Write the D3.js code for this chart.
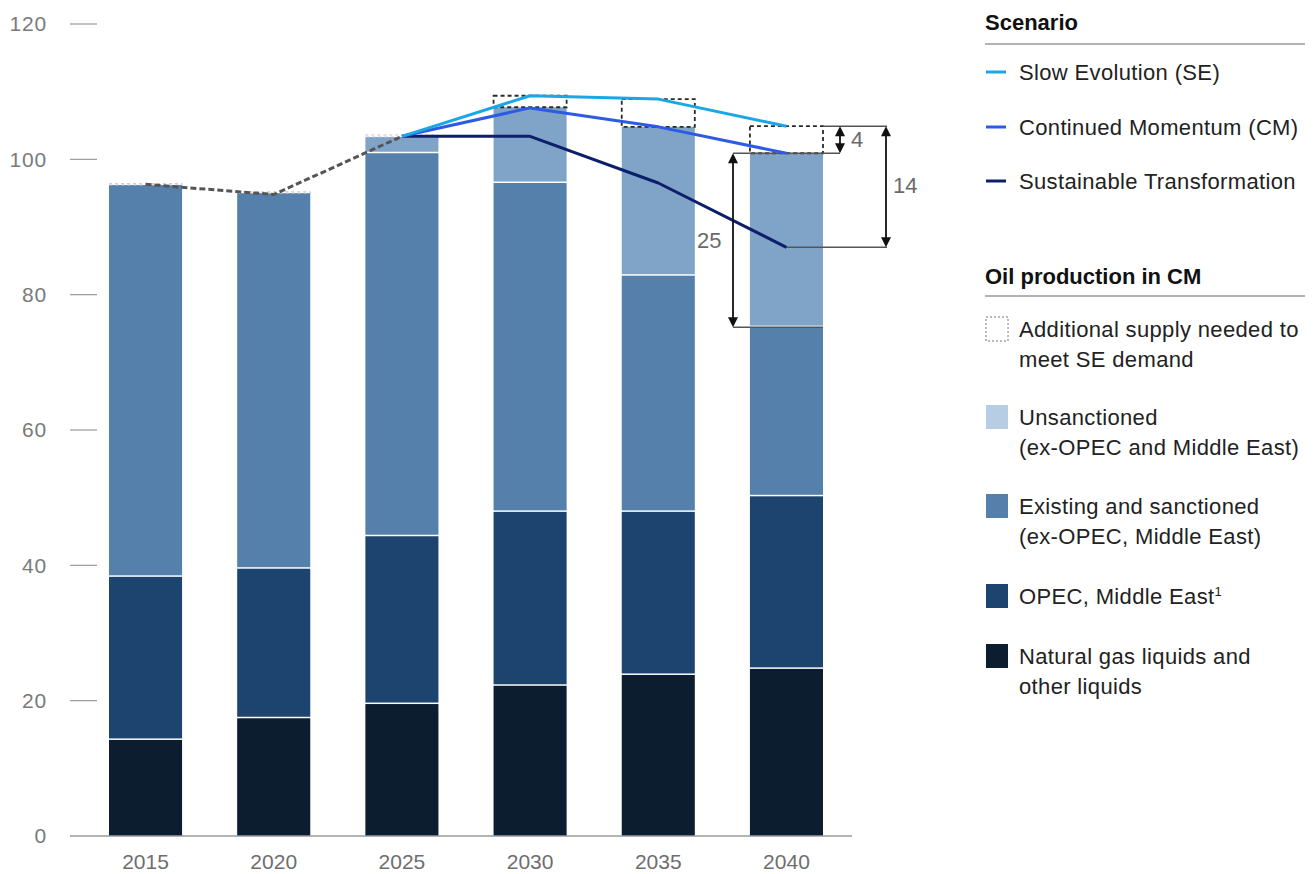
<!DOCTYPE html>
<html><head><meta charset="utf-8">
<script src="https://cdn.jsdelivr.net/npm/d3@7"></script>
<style>
body{margin:0;background:#fff;}
svg{font-family:"Liberation Sans",Arial,sans-serif;}
</style></head>
<body><svg id="c" width="1315" height="874"></svg>
<script>
const years = ["2015","2020","2025","2030","2035","2040"];
const ngl = [14.2, 17.4, 19.5, 22.2, 23.8, 24.7];
const opec = [24.1, 22.1, 24.8, 25.7, 24.1, 25.5];
const existing = [57.9, 55.5, 56.6, 48.6, 34.9, 25.0];
const unsanctioned = [0, 0, 2.4, 11.2, 22.0, 25.7];
const additional = [0.2, 0.2, 0.3, 1.7, 4.1, 4.0];
const histYears = ["2015","2020","2025"];
const histLine = [96.3, 94.8, 103.4];
const scenYears = ["2025","2030","2035","2040"];
const seLine = [103.4, 109.4, 108.9, 104.9];
const cmLine = [103.4, 107.6, 104.8, 100.9];
const stLine = [103.4, 103.4, 96.5, 87.0];
const yTicks = [0, 20, 40, 60, 80, 100, 120];
const gapLabels = ["4", "14", "25"];

const svg = d3.select("#c");
const x = d3.scaleBand().domain(years).range([109, 823]).paddingInner(0.43).paddingOuter(0);
const y = d3.scaleLinear().domain([0, 120]).range([836, 24]);
const cx = d => x(d) + x.bandwidth() / 2;

// y axis ticks
const ya = svg.append("g");
yTicks.forEach(t => {
  if (t > 0) ya.append("line").attr("x1", 70).attr("x2", 97).attr("y1", y(t)).attr("y2", y(t)).attr("stroke", "#9a9a9a").attr("stroke-width", 1.2);
  ya.append("text").attr("x", 47).attr("y", y(t)).attr("dy", "0.35em").attr("text-anchor", "end")
    .attr("font-size", 21).attr("letter-spacing", 0.8).attr("fill", "#7a7a7a").text(t);
});

// stacks
const layers = [
  {vals: ngl, color: "#0b1d2e"},
  {vals: opec, color: "#1d446e"},
  {vals: existing, color: "#5480ab"},
  {vals: unsanctioned, color: "#80a4c8"}
];
const bars = svg.append("g");
years.forEach((yr, i) => {
  let base = 0;
  layers.forEach((L, li) => {
    const v = L.vals[i];
    if (v > 0) {
      const top = base + v;
      const y0 = y(base), y1 = y(top);
      const gapB = li === 0 ? 0 : 1.5;
      bars.append("rect").attr("x", x(yr)).attr("width", x.bandwidth())
        .attr("y", y1).attr("height", Math.max(0, y0 - y1 - gapB)).attr("fill", L.color);
    }
    base += v;
  });
  const a = additional[i];
  const small = a < 1;
  bars.append("rect").attr("x", x(yr)).attr("width", x.bandwidth())
    .attr("y", y(base + a)).attr("height", y(base) - y(base + a))
    .attr("fill", "none").attr("stroke", small ? "#c4c4c4" : "#2a2a2a")
    .attr("stroke-width", small ? 1 : 1.8).attr("stroke-dasharray", small ? "3,3" : "4,3");
});

// baseline
svg.append("line").attr("x1", 70).attr("x2", 852).attr("y1", y(0)).attr("y2", y(0)).attr("stroke", "#9a9a9a").attr("stroke-width", 1.5);

// x labels
years.forEach(yr => svg.append("text").attr("x", cx(yr)).attr("y", 862).attr("dy", "0.35em")
  .attr("text-anchor", "middle").attr("font-size", 21).attr("fill", "#6e6e6e").text(yr));

// annotation guides
const last = years[years.length - 1];
const xr = x(last) + x.bandwidth();
const li = years.length - 1;
const existTop40 = ngl[li] + opec[li] + existing[li];
const ann = svg.append("g").attr("stroke", "#555").attr("stroke-width", 1.5);
ann.append("line").attr("x1", xr).attr("x2", 887).attr("y1", y(seLine[3])).attr("y2", y(seLine[3]));
ann.append("line").attr("x1", 733).attr("x2", 840).attr("y1", y(cmLine[3])).attr("y2", y(cmLine[3]));
ann.append("line").attr("x1", cx(last)).attr("x2", 887).attr("y1", y(stLine[3])).attr("y2", y(stLine[3]));
ann.append("line").attr("x1", 733).attr("x2", xr).attr("y1", y(existTop40)).attr("y2", y(existTop40));

// lines
const line = d3.line().x(d => cx(d[0])).y(d => y(d[1]));
svg.append("path").datum(histYears.map((d, i) => [d, histLine[i]])).attr("d", line)
  .attr("fill", "none").attr("stroke", "#555").attr("stroke-width", 3).attr("stroke-dasharray", "6,3");
[[stLine, "#0d1f6b"], [cmLine, "#2e5be3"], [seLine, "#1aa7e6"]].forEach(([vals, col]) => {
  svg.append("path").datum(scenYears.map((d, i) => [d, vals[i]])).attr("d", line)
    .attr("fill", "none").attr("stroke", col).attr("stroke-width", 3).attr("stroke-linejoin", "round");
});

// double arrows
function dArrow(xp, v1, v2) {
  const a = y(v1), b = y(v2);
  const g = svg.append("g");
  g.append("line").attr("x1", xp).attr("x2", xp).attr("y1", a + 8).attr("y2", b - 8).attr("stroke", "#111").attr("stroke-width", 1.8);
  g.append("path").attr("d", `M${xp - 5},${a + 10} L${xp},${a} L${xp + 5},${a + 10} Z`).attr("fill", "#111");
  g.append("path").attr("d", `M${xp - 5},${b - 10} L${xp},${b} L${xp + 5},${b - 10} Z`).attr("fill", "#111");
}
dArrow(840, seLine[3], cmLine[3]);
dArrow(886, seLine[3], stLine[3]);
dArrow(733, cmLine[3], existTop40);
const lbl = (xp, v, t) => svg.append("text").attr("x", xp).attr("y", y(v)).attr("dy", "0.35em")
  .attr("font-size", 22).attr("fill", "#6a6a6a").text(t);
lbl(851, (seLine[3] + cmLine[3]) / 2, gapLabels[0]);
lbl(893, 96.2, gapLabels[1]);
lbl(697, (cmLine[3] + existTop40) / 2, gapLabels[2]);

// legend
const lg = svg.append("g");
const LX = 985;
const FS = 22, LS = 0.35;
lg.append("text").attr("x", LX).attr("y", 22).attr("dy", "0.35em").attr("font-size", 22).attr("font-weight", "bold").attr("fill", "#111").text("Scenario");
lg.append("line").attr("x1", LX).attr("x2", 1305).attr("y1", 44).attr("y2", 44).attr("stroke", "#999").attr("stroke-width", 1.5);
const scen = [["Slow Evolution (SE)", "#1aa7e6", 72], ["Continued Momentum (CM)", "#2e5be3", 127], ["Sustainable Transformation", "#0d1f6b", 181]];
scen.forEach(([t, c, yy]) => {
  lg.append("line").attr("x1", 986).attr("x2", 1006).attr("y1", yy).attr("y2", yy).attr("stroke", c).attr("stroke-width", 3);
  lg.append("text").attr("x", 1019).attr("y", yy).attr("dy", "0.35em").attr("font-size", FS).attr("letter-spacing", LS).attr("fill", "#222").text(t);
});
lg.append("text").attr("x", LX).attr("y", 276).attr("dy", "0.35em").attr("font-size", 22).attr("font-weight", "bold").attr("fill", "#111").text("Oil production in CM");
lg.append("line").attr("x1", LX).attr("x2", 1305).attr("y1", 296).attr("y2", 296).attr("stroke", "#999").attr("stroke-width", 1.5);
const items = [
  {lines: ["Additional supply needed to", "meet SE demand"], y: 329, fill: "none", dashed: true},
  {lines: ["Unsanctioned", "(ex-OPEC and Middle East)"], y: 417, fill: "#b7cde3"},
  {lines: ["Existing and sanctioned", "(ex-OPEC, Middle East)"], y: 506, fill: "#5480ab"},
  {lines: ["OPEC, Middle East"], y: 596, fill: "#1d446e", sup: "1"},
  {lines: ["Natural gas liquids and", "other liquids"], y: 656, fill: "#0b1d2e"}
];
items.forEach(it => {
  lg.append("rect").attr("x", 986).attr("y", it.y - 12).attr("width", 22).attr("height", 24)
    .attr("fill", it.fill).attr("stroke", it.dashed ? "#777" : "none").attr("stroke-dasharray", it.dashed ? "2,2" : null);
  it.lines.forEach((t, k) => {
    const tx = lg.append("text").attr("x", 1019).attr("y", it.y + k * 30).attr("dy", "0.35em").attr("font-size", FS).attr("letter-spacing", LS).attr("fill", "#222").text(t);
    if (it.sup && k === 0) tx.append("tspan").attr("font-size", 13).attr("dy", "-0.6em").text(it.sup);
  });
});
</script></body></html>
